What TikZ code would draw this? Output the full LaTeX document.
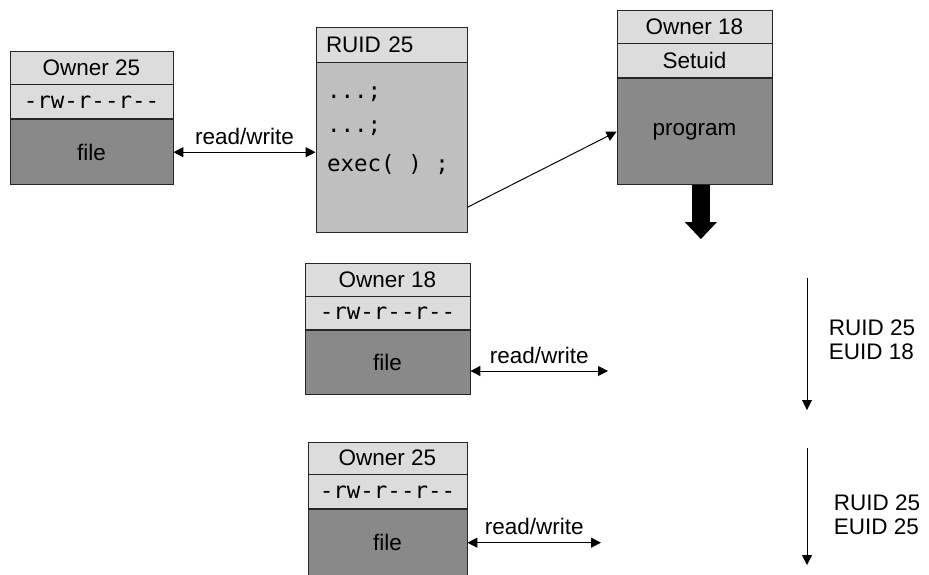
\documentclass[tikz,border=0pt]{standalone}
\usepackage{fontspec}
\setmainfont{Liberation Sans}
\newfontfamily\codefont{DejaVu Sans Mono}[Ligatures=TeXOff]
\usetikzlibrary{arrows.meta,positioning}
\definecolor{rowgray}{HTML}{DCDCDC}
\definecolor{filegray}{HTML}{898989}
\definecolor{codegray}{HTML}{BFBFBF}

\begin{document}
\begin{tikzpicture}[every node/.style={font=\fontsize{16}{17}\selectfont, inner sep=2pt},
	row/.style={draw=black!85, line width=0.6pt, fill=rowgray, minimum height=0.825cm},
	perm/.style={row, font=\codefont\fontsize{16}{17}\selectfont},
	body/.style={draw=black!85, line width=0.6pt, fill=filegray},
	code/.style={font=\codefont\fontsize{16}{17}\selectfont, inner sep=0pt, anchor=base west},
	line width=0.7pt, >={Triangle[width=0.25cm,length=0.25cm]}]
	\useasboundingbox (0,0) rectangle (23.225,-14.375);
	% file of user 25
	\node[row, minimum width=4.075cm] (own1) at (2.2875,-1.6875) {Owner 25};
	\node[perm, minimum width=4.075cm, minimum height=0.85cm, below=0pt of own1] (perm1) {-rw-r--r--};
	\node[body, minimum width=4.075cm, minimum height=1.625cm, below=0pt of perm1] (file1) {file};
	% calling process
	\node[row, minimum height=0.875cm, text width=3.275cm, inner xsep=0.25cm, align=left] (ruid) at (9.7875,-1.1125) {RUID 25};
	\node[body, fill=codegray, minimum width=3.775cm, minimum height=4.25cm, below=0pt of ruid] (caller) {};
	\node[code] (c1) at ([xshift=0.275cm,yshift=-0.9cm]caller.north west) {...;};
	\node[code] (c2) at ([xshift=0.275cm,yshift=-1.75cm]caller.north west) {...;};
	\node[code] (c3) at ([xshift=0.275cm,yshift=-2.73cm]caller.north west) {exec( ) ;};
	% setuid program
	\node[row, minimum width=3.875cm] (own3) at (17.3625,-0.6625) {Owner 18};
	\node[row, minimum width=3.875cm, minimum height=0.85cm, below=0pt of own3] (suid) {Setuid};
	\node[body, minimum width=3.875cm, minimum height=2.65cm, below=0pt of suid] (prog) {program};
	% files seen by the new process
	\node[row, minimum width=4.125cm] (own4) at (9.6875,-6.9875) {Owner 18};
	\node[perm, minimum width=4.125cm, below=0pt of own4] (perm4) {-rw-r--r--};
	\node[body, minimum width=4.125cm, minimum height=1.6cm, below=0pt of perm4] (file4) {file};
	\node[row, minimum width=3.975cm, minimum height=0.8cm] (own5) at (9.6875,-11.45) {Owner 25};
	\node[perm, minimum width=3.975cm, minimum height=0.85cm, below=0pt of own5] (perm5) {-rw-r--r--};
	\node[body, minimum width=3.975cm, minimum height=1.65cm, below=0pt of perm5] (file5) {file};
	\coordinate (e4) at (15.2,-9.275);
	\coordinate (e5) at (15.025,-13.5);
	\coordinate (dn) at ([xshift=0.16cm,yshift=-1.35cm]prog.south);
	\coordinate (s1) at (20.175,-6.95); \coordinate (t1) at (20.175,-10.25);
	\coordinate (s2) at (20.175,-11.2); \coordinate (t2) at (20.175,-14.125);
	% connectors
	\draw[<->] (file1.east) -- node[above=3pt] {read/write} (file1.east -| ruid.west);
	\draw[->] ([yshift=0.65cm]caller.south east) -- (prog.west);
	\draw[line width=0.45cm, -{Triangle[width=0.775cm,length=0.425cm]}] ([xshift=0.16cm]prog.south) -- (dn);
	\draw[<->] (file4.east |- e4) -- node[above=3pt] {read/write} (e4);
	\draw[<->] (file5.east) -- node[above=3pt] {read/write} (file5.east -| e5);
	\draw[->] (s1) -- (t1);
	\draw[->] (s2) -- (t2);
	\node[align=left, font=\fontsize{16}{17}\selectfont] (id1) at (21.8,-8.5) {RUID 25\\EUID 18};
	\node[align=left, font=\fontsize{16}{17}\selectfont] (id2) at (21.925,-12.875) {RUID 25\\EUID 25};
\end{tikzpicture}
\end{document}
